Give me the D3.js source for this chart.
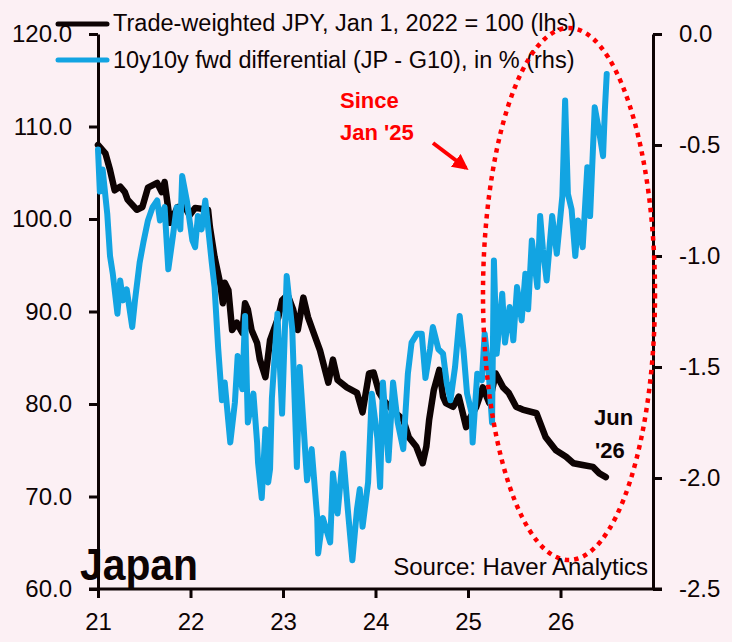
<!DOCTYPE html>
<html>
<head>
<meta charset="utf-8">
<title>Japan: trade-weighted JPY vs 10y10y fwd differential</title>
<script src="https://d3js.org/d3.v7.min.js"></script>
<style>
  body { margin: 0; background: #fcf0f4; }
  svg { display: block; font-family: "Liberation Sans", Arial, sans-serif; }
</style>
</head>
<body>
<div id="chart"></div>
<script>
// trade-weighted JPY, Jan 1 2022 = 100 (lhs)
const jpyYears = [2021.00, 2021.08, 2021.13, 2021.18, 2021.24, 2021.29, 2021.32, 2021.42, 2021.48, 2021.54,
  2021.64, 2021.69, 2021.72, 2021.78, 2021.81, 2021.86, 2021.94, 2021.99, 2022.05, 2022.19,
  2022.21, 2022.26, 2022.32, 2022.35, 2022.37, 2022.41, 2022.45, 2022.50, 2022.56, 2022.59,
  2022.62, 2022.66, 2022.72, 2022.75, 2022.81, 2022.86, 2022.95, 2022.99, 2023.05, 2023.11,
  2023.16, 2023.22, 2023.27, 2023.32, 2023.40, 2023.49, 2023.54, 2023.59, 2023.69, 2023.80,
  2023.86, 2023.93, 2023.98, 2024.04, 2024.09, 2024.15, 2024.22, 2024.30, 2024.36, 2024.44,
  2024.51, 2024.55, 2024.58, 2024.63, 2024.69, 2024.73, 2024.76, 2024.84, 2024.90, 2024.98,
  2025.01, 2025.09, 2025.16, 2025.23, 2025.30, 2025.38, 2025.44, 2025.52, 2025.59, 2025.74,
  2025.84, 2025.95, 2026.06, 2026.14, 2026.24, 2026.35, 2026.42, 2026.49]
const jpyValues = [108.0, 107.1, 105.3, 103.1, 103.5, 102.9, 102.1, 101.0, 101.3, 103.4,
  103.9, 102.9, 104.0, 99.6, 100.2, 101.3, 101.3, 100.4, 101.2, 101.0,
  99.1, 95.9, 93.1, 90.9, 93.1, 92.3, 88.0, 88.8, 87.7, 90.9,
  90.2, 88.0, 86.6, 84.8, 82.9, 86.9, 89.4, 91.2, 91.8, 90.2,
  88.0, 91.5, 89.4, 88.0, 85.8, 82.3, 84.8, 82.6, 81.8, 81.2,
  79.1, 83.3, 83.4, 81.2, 80.4, 79.7, 79.0, 78.3, 76.4, 75.4,
  73.6, 75.4, 78.3, 81.5, 83.7, 80.8, 80.1, 79.7, 80.8, 77.5,
  78.3, 79.7, 81.8, 80.1, 83.3, 81.8, 81.2, 79.7, 79.4, 79.0,
  76.4, 75.0, 74.3, 73.6, 73.4, 73.2, 72.5, 72.1]

// 10y10y fwd differential (JP - G10), in % (rhs)
const fwdYears = [2021.00, 2021.02, 2021.05, 2021.10, 2021.13, 2021.16, 2021.21, 2021.24, 2021.27, 2021.31,
  2021.37, 2021.40, 2021.45, 2021.49, 2021.54, 2021.59, 2021.64, 2021.67, 2021.72, 2021.76,
  2021.81, 2021.85, 2021.89, 2021.91, 2021.96, 2022.02, 2022.05, 2022.08, 2022.12, 2022.16,
  2022.19, 2022.23, 2022.26, 2022.30, 2022.34, 2022.37, 2022.43, 2022.48, 2022.51, 2022.56,
  2022.59, 2022.62, 2022.68, 2022.72, 2022.73, 2022.77, 2022.81, 2022.84, 2022.86, 2022.88,
  2022.94, 2022.99, 2023.04, 2023.10, 2023.15, 2023.18, 2023.22, 2023.26, 2023.31, 2023.37,
  2023.38, 2023.43, 2023.51, 2023.54, 2023.59, 2023.65, 2023.70, 2023.75, 2023.80, 2023.83,
  2023.86, 2023.92, 2023.96, 2024.02, 2024.05, 2024.08, 2024.14, 2024.19, 2024.24, 2024.30,
  2024.35, 2024.39, 2024.45, 2024.50, 2024.54, 2024.59, 2024.62, 2024.68, 2024.73, 2024.77,
  2024.81, 2024.86, 2024.91, 2024.95, 2024.99, 2025.04, 2025.05, 2025.10, 2025.15, 2025.18,
  2025.22, 2025.26, 2025.28, 2025.31, 2025.37, 2025.40, 2025.45, 2025.49, 2025.53, 2025.58,
  2025.62, 2025.65, 2025.69, 2025.75, 2025.78, 2025.81, 2025.85, 2025.91, 2025.96, 2026.02,
  2026.05, 2026.08, 2026.12, 2026.16, 2026.19, 2026.24, 2026.29, 2026.32, 2026.37, 2026.41,
  2026.46, 2026.48, 2026.50]
const fwdValues = [-0.52, -0.71, -0.61, -0.81, -1.00, -1.08, -1.26, -1.11, -1.20, -1.15,
  -1.32, -1.20, -1.03, -0.94, -0.84, -0.78, -0.75, -0.84, -0.78, -1.06,
  -0.91, -0.78, -0.88, -0.64, -0.75, -0.93, -0.96, -0.82, -0.88, -0.75,
  -0.87, -1.03, -1.14, -1.42, -1.65, -1.57, -1.84, -1.66, -1.45, -1.60,
  -1.27, -1.75, -1.62, -1.84, -1.93, -2.09, -1.78, -2.02, -1.96, -1.64,
  -1.26, -1.71, -1.09, -1.33, -1.95, -1.50, -1.75, -2.01, -1.87, -2.18,
  -2.34, -2.18, -2.29, -1.98, -2.16, -1.89, -2.14, -2.37, -2.14, -2.05,
  -2.22, -2.02, -1.62, -1.82, -2.04, -1.57, -1.92, -1.57, -1.75, -1.87,
  -1.53, -1.39, -1.35, -1.35, -1.55, -1.42, -1.32, -1.42, -1.44, -1.57,
  -1.65, -1.50, -1.27, -1.42, -1.62, -1.71, -1.84, -1.53, -1.56, -1.35,
  -1.50, -1.75, -1.02, -1.44, -1.17, -1.39, -1.23, -1.38, -1.14, -1.29,
  -1.08, -1.24, -0.93, -1.14, -0.82, -0.97, -1.11, -0.82, -0.99, -0.73,
  -0.30, -0.72, -0.79, -1.00, -0.84, -0.96, -0.60, -0.82, -0.33, -0.42,
  -0.55, -0.34, -0.18]

const xTicks = [2021, 2022, 2023, 2024, 2025, 2026]
const leftTicks = [60, 70, 80, 90, 100, 110, 120]
const rightTicks = [-2.5, -2.0, -1.5, -1.0, -0.5, 0.0]

const W = 732, H = 642
const plot = {left: 98, right: 653, top: 34, bottom: 589}
const ink = "#0d0303"
const blue = "#12a4e2"
const red = "#ff0000"

const svg = d3.select("#chart").append("svg")
  .attr("width", W).attr("height", H)

svg.append("rect").attr("width", W).attr("height", H).attr("fill", "#fcf0f4")

const x = d3.scaleLinear().domain([2021, 2027]).range([plot.left, plot.right])
const yL = d3.scaleLinear().domain([60, 120]).range([plot.bottom, plot.top])
const yR = d3.scaleLinear().domain([-2.5, 0]).range([plot.bottom, plot.top])

const fmt1 = d => (Math.abs(d) < 1e-9 ? 0 : d).toFixed(1)

function styleAxis(g) {
  g.selectAll("path.domain").attr("stroke", ink).attr("stroke-width", 3)
  g.selectAll(".tick line").attr("stroke", ink).attr("stroke-width", 3)
  g.selectAll(".tick text").attr("fill", ink).style("font-size", "24px")
    .style("font-family", "'Liberation Sans', Arial, sans-serif")
}

// bottom axis
svg.append("g")
  .attr("transform", "translate(0," + plot.bottom + ")")
  .call(d3.axisBottom(x).tickValues(xTicks).tickSize(9).tickSizeOuter(0).tickPadding(15)
    .tickFormat(d => String(d).slice(2)))
  .call(styleAxis)
  .call(g => g.select("path.domain").remove())

// left axis
svg.append("g")
  .attr("transform", "translate(" + plot.left + ",0)")
  .call(d3.axisLeft(yL).tickValues(leftTicks).tickSize(9).tickSizeOuter(0).tickPadding(17).tickFormat(fmt1))
  .call(styleAxis)

// right axis
svg.append("g")
  .attr("transform", "translate(" + plot.right + ",0)")
  .call(d3.axisRight(yR).tickValues(rightTicks).tickSize(9).tickSizeOuter(0).tickPadding(17).tickFormat(fmt1))
  .call(styleAxis)

// bottom line spans both outer ticks
svg.append("line")
  .attr("x1", plot.left - 9).attr("x2", plot.right + 9)
  .attr("y1", plot.bottom).attr("y2", plot.bottom)
  .attr("stroke", ink).attr("stroke-width", 3)

// series
const jpy = jpyYears.map((d, i) => [d, jpyValues[i]])
const fwd = fwdYears.map((d, i) => [d, fwdValues[i]])

svg.append("path")
  .datum(jpy)
  .attr("fill", "none").attr("stroke", ink).attr("stroke-width", 6.5)
  .attr("stroke-linejoin", "round").attr("stroke-linecap", "round")
  .attr("d", d3.line().x(d => x(d[0])).y(d => yL(d[1])))

svg.append("path")
  .datum(fwd)
  .attr("fill", "none").attr("stroke", blue).attr("stroke-width", 6)
  .attr("stroke-linejoin", "round").attr("stroke-linecap", "round")
  .attr("d", d3.line().x(d => x(d[0])).y(d => yR(d[1])))

// legend
const legend = svg.append("g")
legend.append("line").attr("x1", 58).attr("x2", 107).attr("y1", 24).attr("y2", 24)
  .attr("stroke", ink).attr("stroke-width", 5).attr("stroke-linecap", "round")
legend.append("line").attr("x1", 58).attr("x2", 107).attr("y1", 60).attr("y2", 60)
  .attr("stroke", blue).attr("stroke-width", 5).attr("stroke-linecap", "round")
legend.append("text").attr("x", 113).attr("y", 31).attr("fill", ink).style("font-size", "23.5px")
  .text("Trade-weighted JPY, Jan 1, 2022 = 100 (lhs)")
legend.append("text").attr("x", 113).attr("y", 68).attr("fill", ink).style("font-size", "23.5px")
  .text("10y10y fwd differential (JP - G10), in % (rhs)")

// annotations
svg.append("text").attr("x", 340).attr("y", 108).attr("fill", red)
  .style("font-size", "22px").style("font-weight", "bold").text("Since")
svg.append("text").attr("x", 340).attr("y", 140).attr("fill", red)
  .style("font-size", "22px").style("font-weight", "bold").text("Jan '25")

svg.append("defs").append("marker")
  .attr("id", "arrow").attr("viewBox", "0 0 10 10").attr("refX", 8).attr("refY", 5)
  .attr("markerWidth", 4).attr("markerHeight", 4).attr("orient", "auto")
  .append("path").attr("d", "M0,0 L10,5 L0,10 z").attr("fill", red)
svg.append("line").attr("x1", 433).attr("y1", 143).attr("x2", 466).attr("y2", 168)
  .attr("stroke", red).attr("stroke-width", 4).attr("marker-end", "url(#arrow)")

svg.append("ellipse")
  .attr("cx", 569).attr("cy", 294).attr("rx", 86).attr("ry", 266)
  .attr("fill", "none").attr("stroke", red).attr("stroke-width", 4.5)
  .attr("stroke-dasharray", "4.5 5")

svg.append("text").attr("x", 594).attr("y", 425).attr("fill", ink)
  .style("font-size", "22px").style("font-weight", "bold").text("Jun")
svg.append("text").attr("x", 595).attr("y", 458).attr("fill", ink)
  .style("font-size", "22px").style("font-weight", "bold").text("'26")

svg.append("text").attr("x", 80).attr("y", 580).attr("fill", ink)
  .style("font-size", "45px").style("font-weight", "bold")
  .attr("textLength", 118).attr("lengthAdjust", "spacingAndGlyphs").text("Japan")

svg.append("text").attr("x", 648).attr("y", 575).attr("fill", ink)
  .attr("text-anchor", "end").style("font-size", "24px").text("Source: Haver Analytics")
</script>
</body>
</html>
